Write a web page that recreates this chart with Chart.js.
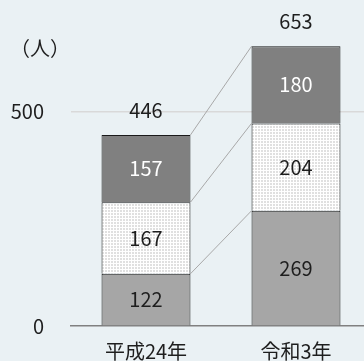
<!DOCTYPE html>
<html><head><meta charset="utf-8">
<script src="https://cdn.jsdelivr.net/npm/chart.js@4/dist/chart.umd.min.js"></script>
<style>
html,body{margin:0;padding:0;background:#eaf1f4;overflow:hidden;width:364px;height:361px;}
#wrap{width:364px;height:361px;position:relative;overflow:hidden;}
canvas{display:block;}
</style></head>
<body><div id="wrap"><canvas id="c" width="371" height="376"></canvas></div>
<script>
const categories = ['平成24年', '令和3年'];
const bottomValues = [122, 269];
const middleValues = [167, 204];
const topValues = [157, 180];
const totals = [446, 653];
const yTickValues = [0, 500];
const unitLabel = '（人）';

const FONT = '"Noto Sans CJK JP", "Noto Sans", sans-serif';
const TEXT = '#1e1e1e';

function makeDots() {
  const c = document.createElement('canvas');
  c.width = 3; c.height = 3;
  const g = c.getContext('2d');
  g.fillStyle = '#ffffff'; g.fillRect(0, 0, 3, 3);
  g.fillStyle = '#e0e0e0'; g.fillRect(0, 0, 2, 2);
  return g.createPattern(c, 'repeat');
}
const ctx = document.getElementById('c').getContext('2d');
const dots = makeDots();

const overlay = {
  id: 'overlay',
  beforeDatasetsDraw(chart) {
    const g = chart.ctx;
    const metas = [0, 1, 2].map(i => chart.getDatasetMeta(i).data);
    g.save();
    g.strokeStyle = '#a8a8a8';
    g.lineWidth = 1;
    for (let s = 0; s < 3; s++) {
      const a = metas[s][0], b = metas[s][1];
      g.beginPath();
      g.moveTo(a.x + a.width / 2, a.y);
      g.lineTo(b.x - b.width / 2, b.y);
      g.stroke();
    }
    g.restore();
  },
  afterDatasetsDraw(chart) {
    const g = chart.ctx;
    g.save();
    g.font = '20px ' + FONT;
    g.textAlign = 'center';
    g.textBaseline = 'middle';
    for (let s = 0; s < 3; s++) {
      const meta = chart.getDatasetMeta(s);
      const vals = chart.data.datasets[s].data;
      meta.data.forEach((el, i) => {
        g.fillStyle = s === 2 ? '#ffffff' : TEXT;
        g.fillText(String(vals[i]), el.x, (el.y + el.base) / 2);
      });
    }
    const topMeta = chart.getDatasetMeta(2);
    topMeta.data.forEach((el, i) => {
      g.fillStyle = TEXT;
      g.fillText(String(totals[i]), el.x, el.y - 25);
    });
    g.fillText(unitLabel, 40, 48);
    g.restore();
  }
};

new Chart(ctx, {
  type: 'bar',
  data: {
    labels: categories,
    datasets: [
      { data: bottomValues, backgroundColor: '#a6a6a6', borderColor: '#1a1a1a', borderWidth: 1 },
      { data: middleValues, backgroundColor: dots, borderColor: '#1a1a1a', borderWidth: 1 },
      { data: topValues, backgroundColor: '#808080', borderColor: '#1a1a1a', borderWidth: 1 }
    ]
  },
  options: {
    responsive: false,
    animation: false,
    events: [],
    layout: { padding: { top: 12, right: 0, bottom: 0, left: 0 } },
    datasets: { bar: { categoryPercentage: 1, barPercentage: 0.593 } },
    plugins: { legend: { display: false }, tooltip: { enabled: false }, title: { display: false } },
    scales: {
      x: {
        stacked: true,
        grid: { display: false, drawTicks: false },
        border: { display: true, color: '#808080', width: 1.5 },
        ticks: { color: TEXT, font: { family: FONT, size: 20 }, padding: 13, maxRotation: 0 }
      },
      y: {
        stacked: true,
        min: 0, max: 670,
        afterBuildTicks(scale) { scale.ticks = yTickValues.map(v => ({ value: v })); },
        afterFit(scale) { scale.width = 71; },
        grid: {
          drawTicks: false,
          color: c => c.tick && c.tick.value === 0 ? 'rgba(0,0,0,0)' : '#d9d9d9',
          lineWidth: 1.5
        },
        border: { display: false },
        ticks: { color: TEXT, font: { family: FONT, size: 20 }, padding: 27 }
      }
    }
  },
  plugins: [overlay]
});
</script></body></html>
